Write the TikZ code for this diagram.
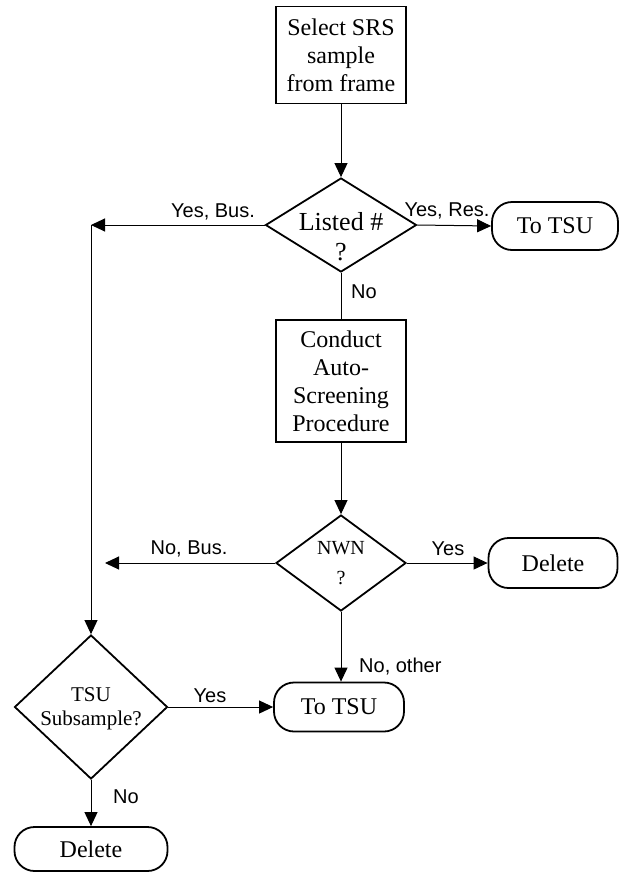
\documentclass[tikz,border=0pt]{standalone}
\usepackage{fontspec}
\setmainfont{Liberation Serif}
\newfontfamily\lblfont{Liberation Sans}
\usetikzlibrary{shapes.geometric,arrows.meta}
\begin{document}
\begin{tikzpicture}[x=1pt,y=-1pt,
  procbox/.style={draw,line width=1.8pt,rectangle,inner sep=0pt,align=center,
    font=\fontsize{24}{28}\selectfont},
  termbox/.style={draw,line width=1.8pt,rectangle,rounded corners=20pt,inner sep=0pt,align=center,
    font=\fontsize{24}{28}\selectfont},
  decbox/.style={draw,line width=1.8pt,diamond,inner sep=0pt},
  dectext/.style={align=center,inner sep=0pt},
  lbl/.style={font=\lblfont\fontsize{20}{22}\selectfont,inner sep=0pt},
  conn/.style={line width=1pt,-{Triangle[length=14pt,width=13pt]}},
  plain/.style={line width=1pt}
]
\useasboundingbox (0,0) rectangle (623,873);

% nodes
\node[procbox,minimum width=130pt,minimum height=97pt] (sel) at (341,55) {Select SRS\\sample\\from frame};
\node[decbox,minimum width=151pt,minimum height=94pt] (listed) at (341,225) {};
\node[dectext,font=\fontsize{26}{30}\selectfont] (listedt) at (341,237) {Listed \#\\?};
\node[termbox,minimum width=126pt,minimum height=48pt] (totsua) at (555,226) {To TSU};
\node[procbox,minimum width=130pt,minimum height=122pt] (conduct) at (341,381) {Conduct\\Auto-\\Screening\\Procedure};
\node[decbox,minimum width=130pt,minimum height=96pt] (nwn) at (341,563) {};
\node[dectext,font=\fontsize{20}{30}\selectfont] (nwnt) at (341,563) {NWN\\?};
\node[termbox,minimum width=129pt,minimum height=50pt] (dela) at (553,563) {Delete};
\node[termbox,minimum width=130pt,minimum height=49pt] (totsub) at (339,707) {To TSU};
\node[decbox,minimum width=153pt,minimum height=144pt] (tsu) at (91,707) {};
\node[dectext,font=\fontsize{21}{24}\selectfont] (tsut) at (91,709) {TSU\\Subsample?};
\node[termbox,minimum width=153pt,minimum height=44pt] (delb) at (91,849) {Delete};

\coordinate (bj) at (91,225);
\coordinate (nb) at (105,563);

% connectors
\draw[conn] (sel.south) -- (listed.north);
\draw[conn] (listed.east) -- (totsua.west);
\draw[conn] (listed.west) -- (bj);
\draw[conn] (bj) -- (tsu.north);
\draw[plain] (listed.south) -- (conduct.north);
\draw[conn] (conduct.south) -- (nwn.north);
\draw[conn] (nwn.west) -- (nb);
\draw[conn] (nwn.east) -- (dela.west);
\draw[conn] (nwn.south) -- (nwn.south |- totsub.north);
\draw[conn] (tsu.east) -- (totsub.west);
\draw[conn] (tsu.south) -- (delb.north);

% labels
\node[lbl] (l1) at (213,212) {Yes, Bus.};
\node[lbl] (l2) at (447,211) {Yes, Res.};
\node[lbl] (l3) at (364,292) {No};
\node[lbl] (l4) at (189,549) {No, Bus.};
\node[lbl] (l5) at (448,549) {Yes};
\node[lbl,anchor=west] (l6) at (359,667) {No, other};
\node[lbl] (l7) at (210,696) {Yes};
\node[lbl] (l8) at (126,797) {No};
\end{tikzpicture}
\end{document}
